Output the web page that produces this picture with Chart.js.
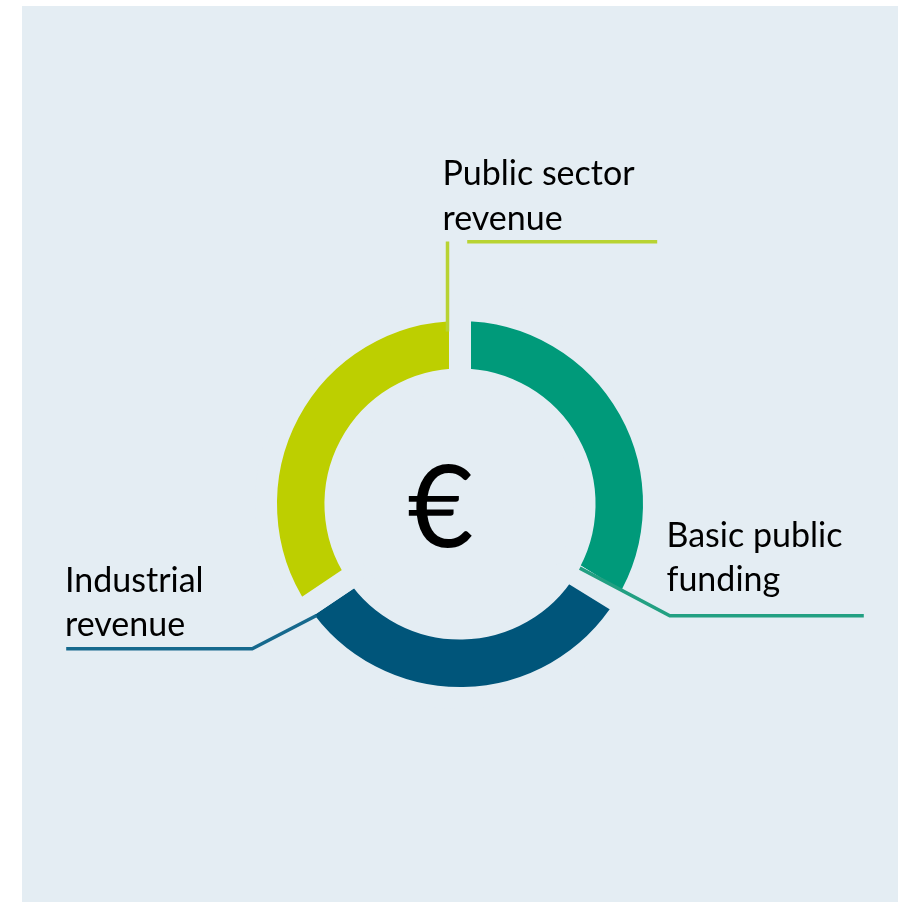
<!DOCTYPE html>
<html>
<head>
<meta charset="utf-8">
<title>Funding sources</title>
<script src="https://cdn.jsdelivr.net/npm/chart.js@4/dist/chart.umd.min.js"></script>
<style>
  html, body { margin: 0; padding: 0; background: #ffffff; }
  body { width: 909px; height: 902px; position: relative; overflow: hidden; }
  #panel { position: absolute; left: 22px; top: 6px; width: 876px; height: 896px; background: #E4EDF3; }
  canvas { display: block; }
</style>
</head>
<body>
<div id="panel"><canvas id="chart" width="876" height="896"></canvas></div>
<script>
// Revenue sources, clockwise from the top
const categories = ['Basic public funding', 'Industrial revenue', 'Public sector revenue'];
const shares = [33.8, 31.8, 34.4];
const labelLines = [['Basic public', 'funding'], ['Industrial', 'revenue'], ['Public sector', 'revenue']];
const centerSymbol = '€';

const PANEL_BG = '#E4EDF3';
const segmentColors = ['#009A7A', '#00557A', '#BDCF00'];
const leaderColors = ['#22A082', '#16698D', '#B8D332'];

// Leader polylines, as offsets from the ring centre
const leaders = [
  [[119.8, 64.1], [209.8, 111.8], [403.8, 111.8]],
  [[-143.5, 111.5], [-207.8, 144.8], [-393.8, 144.8]],
  [[-12.5, -172.5], [-12.5, -262.5]],
  [[7.2, -262.2], [197.2, -262.2]]
];
const leaderOwner = [0, 1, 2, 2];

// Label anchors (left edge, first baseline) in canvas pixels
const labelAnchors = [[644.5, 540.5], [43, 585.5], [420.5, 179]];
const LINE_GAP = 44.5;

const annotate = {
  id: 'annotate',
  afterDatasetsDraw(chart) {
    const ctx = chart.ctx;
    const arc = chart.getDatasetMeta(0).data[0];
    const cx = arc.x, cy = arc.y;
    ctx.save();
    ctx.lineWidth = 3.5;
    ctx.lineCap = 'butt';
    ctx.lineJoin = 'miter';
    leaders.forEach((pts, i) => {
      ctx.strokeStyle = leaderColors[leaderOwner[i]];
      ctx.beginPath();
      pts.forEach(([dx, dy], k) => {
        if (k === 0) ctx.moveTo(cx + dx, cy + dy); else ctx.lineTo(cx + dx, cy + dy);
      });
      ctx.stroke();
    });

    ctx.fillStyle = '#000000';
    ctx.textAlign = 'left';
    ctx.textBaseline = 'alphabetic';
    ctx.font = '34px Lato, "Open Sans", sans-serif';
    labelLines.forEach((lines, i) => {
      const [x, y] = labelAnchors[i];
      lines.forEach((t, k) => ctx.fillText(t, x, y + k * LINE_GAP));
    });

    ctx.textAlign = 'center';
    ctx.font = '114px Lato, "Open Sans", sans-serif';
    ctx.fillText(centerSymbol, cx - 19.5, cy + 43);
    ctx.restore();
  }
};

new Chart(document.getElementById('chart'), {
  type: 'doughnut',
  data: {
    labels: categories,
    datasets: [{
      data: shares,
      backgroundColor: segmentColors,
      borderColor: PANEL_BG,
      borderWidth: 22,
      borderAlign: 'center',
      hoverOffset: 0
    }]
  },
  options: {
    responsive: false,
    animation: false,
    events: [],
    radius: 194,
    cutout: '64.2%',
    rotation: 0,
    layout: { padding: { top: 100, bottom: 0, left: 0, right: 0 } },
    plugins: {
      legend: { display: false },
      tooltip: { enabled: false }
    }
  },
  plugins: [annotate]
});
</script>
</body>
</html>
